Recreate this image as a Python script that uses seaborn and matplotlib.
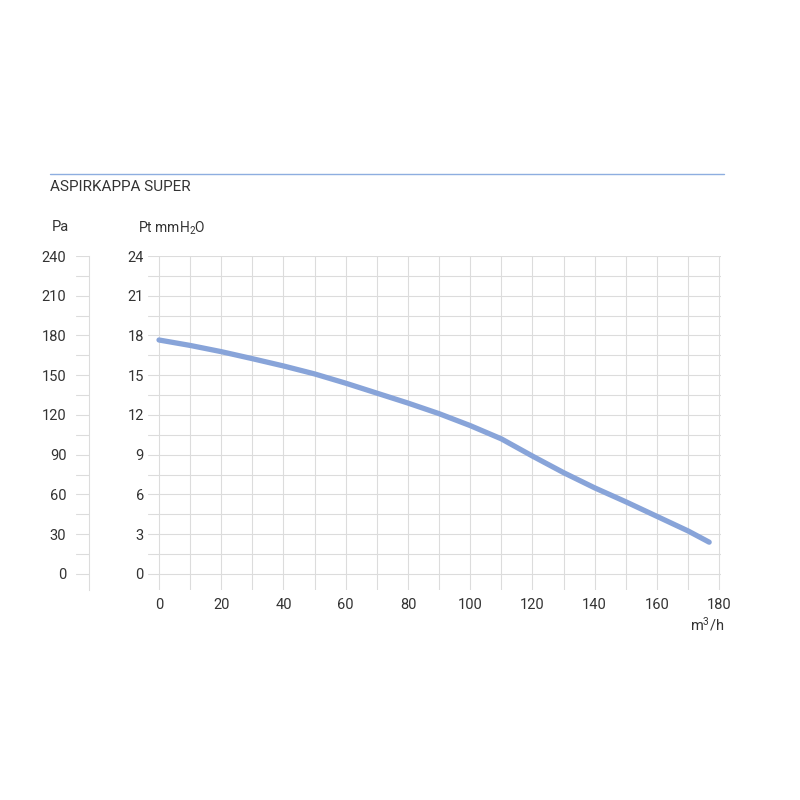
import matplotlib
matplotlib.use("Agg")
import matplotlib.pyplot as plt
import numpy as np
import pandas as pd
import seaborn as sns

# curva (portata m3/h -> pressione mmH2O)
portata = [0, 10, 20, 30, 40, 50, 60, 70, 80, 90, 100, 110, 120, 130, 140, 150, 160, 170, 176.8]
pressione = [17.66, 17.25, 16.78, 16.25, 15.7, 15.1, 14.4, 13.65, 12.9, 12.1, 11.2, 10.2, 8.9,
             7.65, 6.5, 5.45, 4.35, 3.25, 2.4]

x_ticks = [0, 20, 40, 60, 80, 100, 120, 140, 160, 180]
mm_ticks = [0, 3, 6, 9, 12, 15, 18, 21, 24]
pa_ticks = [0, 30, 60, 90, 120, 150, 180, 210, 240]

sns.set_style("white")
plt.rcParams["font.family"] = ["Roboto", "DejaVu Sans"]
plt.rcParams["mathtext.default"] = "regular"

testo = "#333333"
griglia = "#dcdcdc"
blu = "#88a4d9"

W, H = 800, 800
fig = plt.figure(figsize=(8, 8), dpi=100)


def box(x0, y0, x1, y1):
    return [x0 / W, 1 - y1 / H, (x1 - x0) / W, (y1 - y0) / H]


# assi principali
ax = fig.add_axes(box(148, 256, 721, 590))
df = pd.DataFrame({"q": portata, "p": pressione})
sns.lineplot(data=df, x="q", y="p", ax=ax, color=blu, linewidth=3.8,
             solid_capstyle="round", solid_joinstyle="round")
ax.set_xlim(-3.54, 180.6)
ax.set_ylim(-1.21, 24)
ax.set_xticks(x_ticks)
ax.set_xticks(np.arange(0, 181, 10), minor=True)
ax.set_yticks(mm_ticks)
ax.set_yticks(np.arange(0, 24.1, 1.5), minor=True)
ax.grid(True, which="both", color=griglia, linewidth=0.8)
ax.tick_params(which="both", length=0, labelsize=10.5, colors=testo)
ax.tick_params(axis="y", pad=3)
ax.tick_params(axis="x", pad=6)
for s in ax.spines.values():
    s.set_visible(False)
ax.set_xlabel("")
ax.set_ylabel("")

# asse Pa a sinistra
ax2 = fig.add_axes(box(76, 256, 89, 590))
ax2.set_xlim(0, 1)
ax2.set_ylim(-12.1, 240)
ax2.set_yticks(pa_ticks)
ax2.set_yticks(np.arange(0, 241, 15), minor=True)
ax2.set_xticks([])
ax2.grid(True, axis="y", which="both", color=griglia, linewidth=0.8)
ax2.tick_params(which="both", length=0, labelsize=10.5, colors=testo, pad=7)
for k, s in ax2.spines.items():
    s.set_visible(k == "right")
ax2.spines["right"].set_color(griglia)
ax2.spines["right"].set_linewidth(0.8)

# titolo e linea
fig.add_artist(plt.Line2D([50 / W, 724 / W], [1 - 174 / H, 1 - 174 / H], color="#8eaee0", linewidth=1))
fig.text(50 / W, 1 - 187 / H, "ASPIRKAPPA SUPER", fontsize=11, color=testo, va="center", ha="left")
fig.text(52 / W, 1 - 227 / H, "Pa", fontsize=10.5, color=testo, va="center", ha="left")
fig.text(138 / W, 1 - 228 / H, "Pt mmH$_2$O", fontsize=10, color=testo, va="center", ha="left")
fig.text(724 / W, 1 - 624 / H, "m$^3$/h", fontsize=10.5, color=testo, va="center", ha="right")

fig.savefig("out.png", dpi=100)
